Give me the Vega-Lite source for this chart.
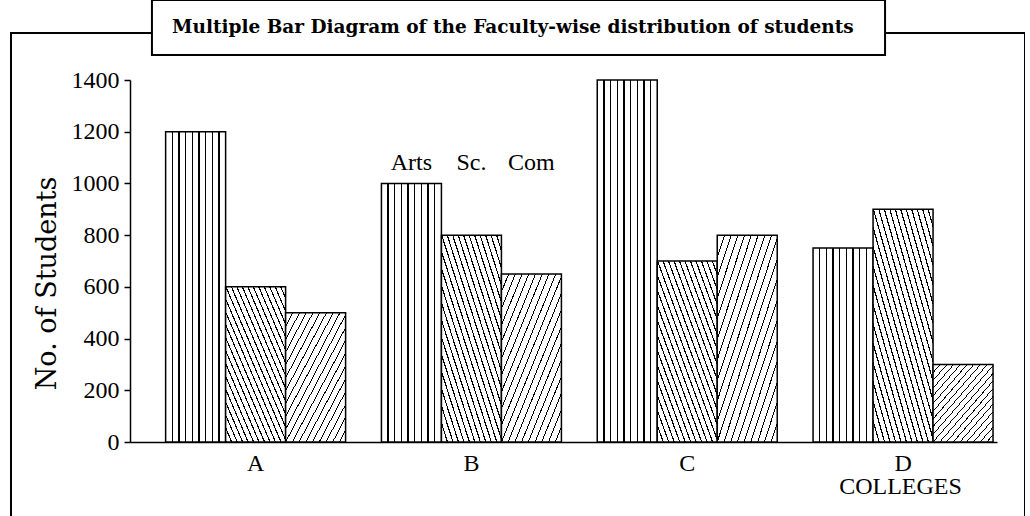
{
  "$schema": "https://vega.github.io/schema/vega-lite/v6.json",
  "autosize": {"type": "none"},
  "padding": {"left": 11, "top": 33, "right": 0, "bottom": 0},
  "width": 1014,
  "height": 490,
  "background": "#ffffff",
  "config": {
    "view": {"stroke": "#000000", "strokeWidth": 2, "fill": "#ffffff"},
    "axis": {"grid": false}
  },
  "layer": [
    {
      "data": {
        "values": [
          {"college": "A", "faculty": "Arts", "students": 1200},
          {"college": "A", "faculty": "Sc.", "students": 600},
          {"college": "A", "faculty": "Com", "students": 500},
          {"college": "B", "faculty": "Arts", "students": 1000},
          {"college": "B", "faculty": "Sc.", "students": 800},
          {"college": "B", "faculty": "Com", "students": 650},
          {"college": "C", "faculty": "Arts", "students": 1400},
          {"college": "C", "faculty": "Sc.", "students": 700},
          {"college": "C", "faculty": "Com", "students": 800},
          {"college": "D", "faculty": "Arts", "students": 750},
          {"college": "D", "faculty": "Sc.", "students": 900},
          {"college": "D", "faculty": "Com", "students": 300}
        ]
      },
      "encoding": {
        "x": {
          "field": "college",
          "type": "nominal",
          "scale": {"range": [119, 986], "paddingInner": 0.166, "paddingOuter": 0.0917, "align": 0.9},
          "axis": {
            "title": "COLLEGES",
            "labelAngle": 0,
            "ticks": false,
            "tickSize": 0,
            "labelPadding": 9,
            "labelFont": "Liberation Serif",
            "labelFontSize": 24,
            "labelColor": "#000000",
            "domainColor": "#000000",
            "domainWidth": 1.5,
            "offset": -81,
            "titleFont": "Liberation Serif",
            "titleFontSize": 24,
            "titleFontWeight": "normal",
            "titleColor": "#000000",
            "titleX": 889,
            "titleY": 44,
            "titleAlign": "center",
            "titleBaseline": "middle"
          }
        },
        "xOffset": {
          "field": "faculty",
          "type": "nominal",
          "sort": ["Arts", "Sc.", "Com"],
          "scale": {"domain": ["Arts", "Sc.", "Com"], "paddingInner": 0, "paddingOuter": 0}
        },
        "y": {
          "field": "students",
          "type": "quantitative",
          "scale": {"domain": [0, 1400], "range": [409, 47], "nice": false},
          "axis": {
            "title": "No. of Students",
            "values": [0, 200, 400, 600, 800, 1000, 1200, 1400],
            "format": "d",
            "offset": -119,
            "domainColor": "#000000",
            "domainWidth": 1.5,
            "tickColor": "#000000",
            "tickWidth": 1.5,
            "tickSize": 6,
            "labelPadding": 5,
            "labelFont": "Liberation Serif",
            "labelFontSize": 24,
            "labelColor": "#000000",
            "titleFont": "DejaVu Serif",
            "titleFontSize": 27,
            "titleFontWeight": "normal",
            "titleColor": "#000000",
            "titleX": -83,
            "titleY": 250,
            "titleAngle": -90,
            "titleAlign": "center",
            "titleBaseline": "middle"
          }
        }
      },
      "layer": [
        {
          "transform": [{"filter": "datum.faculty === 'Arts'"}],
          "mark": {
            "type": "bar",
            "stroke": "#000000",
            "strokeWidth": 1.5,
            "fill": {
              "gradient": "linear", "x1": 0, "y1": 0, "x2": 1, "y2": 0,
              "stops": [
                {"offset": 0, "color": "#ffffff"},
                {"offset": 0.1011, "color": "#ffffff"}, {"offset": 0.1011, "color": "#000000"}, {"offset": 0.1211, "color": "#000000"}, {"offset": 0.1211, "color": "#ffffff"},
                {"offset": 0.2122, "color": "#ffffff"}, {"offset": 0.2122, "color": "#000000"}, {"offset": 0.2322, "color": "#000000"}, {"offset": 0.2322, "color": "#ffffff"},
                {"offset": 0.3233, "color": "#ffffff"}, {"offset": 0.3233, "color": "#000000"}, {"offset": 0.3433, "color": "#000000"}, {"offset": 0.3433, "color": "#ffffff"},
                {"offset": 0.4344, "color": "#ffffff"}, {"offset": 0.4344, "color": "#000000"}, {"offset": 0.4544, "color": "#000000"}, {"offset": 0.4544, "color": "#ffffff"},
                {"offset": 0.5456, "color": "#ffffff"}, {"offset": 0.5456, "color": "#000000"}, {"offset": 0.5656, "color": "#000000"}, {"offset": 0.5656, "color": "#ffffff"},
                {"offset": 0.6567, "color": "#ffffff"}, {"offset": 0.6567, "color": "#000000"}, {"offset": 0.6767, "color": "#000000"}, {"offset": 0.6767, "color": "#ffffff"},
                {"offset": 0.7678, "color": "#ffffff"}, {"offset": 0.7678, "color": "#000000"}, {"offset": 0.7878, "color": "#000000"}, {"offset": 0.7878, "color": "#ffffff"},
                {"offset": 0.8789, "color": "#ffffff"}, {"offset": 0.8789, "color": "#000000"}, {"offset": 0.8989, "color": "#000000"}, {"offset": 0.8989, "color": "#ffffff"},
                {"offset": 1, "color": "#ffffff"}
              ]
            }
          }
        },
        {
          "transform": [{"filter": "datum.faculty === 'Sc.'"}],
          "mark": {
            "type": "bar",
            "stroke": "#000000",
            "strokeWidth": 1.5,
            "fill": {
              "gradient": "linear", "x1": 0, "y1": 1, "x2": 0.95, "y2": -0.045,
              "stops": [
                {"offset": 0, "color": "#000000"}, {"offset": 0.0095, "color": "#000000"}, {"offset": 0.0095, "color": "#ffffff"}, {"offset": 0.0435, "color": "#ffffff"},
                {"offset": 0.0435, "color": "#000000"}, {"offset": 0.0530, "color": "#000000"}, {"offset": 0.0530, "color": "#ffffff"}, {"offset": 0.0870, "color": "#ffffff"},
                {"offset": 0.0870, "color": "#000000"}, {"offset": 0.0965, "color": "#000000"}, {"offset": 0.0965, "color": "#ffffff"}, {"offset": 0.1304, "color": "#ffffff"},
                {"offset": 0.1304, "color": "#000000"}, {"offset": 0.1399, "color": "#000000"}, {"offset": 0.1399, "color": "#ffffff"}, {"offset": 0.1739, "color": "#ffffff"},
                {"offset": 0.1739, "color": "#000000"}, {"offset": 0.1834, "color": "#000000"}, {"offset": 0.1834, "color": "#ffffff"}, {"offset": 0.2174, "color": "#ffffff"},
                {"offset": 0.2174, "color": "#000000"}, {"offset": 0.2269, "color": "#000000"}, {"offset": 0.2269, "color": "#ffffff"}, {"offset": 0.2609, "color": "#ffffff"},
                {"offset": 0.2609, "color": "#000000"}, {"offset": 0.2704, "color": "#000000"}, {"offset": 0.2704, "color": "#ffffff"}, {"offset": 0.3043, "color": "#ffffff"},
                {"offset": 0.3043, "color": "#000000"}, {"offset": 0.3138, "color": "#000000"}, {"offset": 0.3138, "color": "#ffffff"}, {"offset": 0.3478, "color": "#ffffff"},
                {"offset": 0.3478, "color": "#000000"}, {"offset": 0.3573, "color": "#000000"}, {"offset": 0.3573, "color": "#ffffff"}, {"offset": 0.3913, "color": "#ffffff"},
                {"offset": 0.3913, "color": "#000000"}, {"offset": 0.4008, "color": "#000000"}, {"offset": 0.4008, "color": "#ffffff"}, {"offset": 0.4348, "color": "#ffffff"},
                {"offset": 0.4348, "color": "#000000"}, {"offset": 0.4443, "color": "#000000"}, {"offset": 0.4443, "color": "#ffffff"}, {"offset": 0.4783, "color": "#ffffff"},
                {"offset": 0.4783, "color": "#000000"}, {"offset": 0.4878, "color": "#000000"}, {"offset": 0.4878, "color": "#ffffff"}, {"offset": 0.5217, "color": "#ffffff"},
                {"offset": 0.5217, "color": "#000000"}, {"offset": 0.5312, "color": "#000000"}, {"offset": 0.5312, "color": "#ffffff"}, {"offset": 0.5652, "color": "#ffffff"},
                {"offset": 0.5652, "color": "#000000"}, {"offset": 0.5747, "color": "#000000"}, {"offset": 0.5747, "color": "#ffffff"}, {"offset": 0.6087, "color": "#ffffff"},
                {"offset": 0.6087, "color": "#000000"}, {"offset": 0.6182, "color": "#000000"}, {"offset": 0.6182, "color": "#ffffff"}, {"offset": 0.6522, "color": "#ffffff"},
                {"offset": 0.6522, "color": "#000000"}, {"offset": 0.6617, "color": "#000000"}, {"offset": 0.6617, "color": "#ffffff"}, {"offset": 0.6957, "color": "#ffffff"},
                {"offset": 0.6957, "color": "#000000"}, {"offset": 0.7052, "color": "#000000"}, {"offset": 0.7052, "color": "#ffffff"}, {"offset": 0.7391, "color": "#ffffff"},
                {"offset": 0.7391, "color": "#000000"}, {"offset": 0.7486, "color": "#000000"}, {"offset": 0.7486, "color": "#ffffff"}, {"offset": 0.7826, "color": "#ffffff"},
                {"offset": 0.7826, "color": "#000000"}, {"offset": 0.7921, "color": "#000000"}, {"offset": 0.7921, "color": "#ffffff"}, {"offset": 0.8261, "color": "#ffffff"},
                {"offset": 0.8261, "color": "#000000"}, {"offset": 0.8356, "color": "#000000"}, {"offset": 0.8356, "color": "#ffffff"}, {"offset": 0.8696, "color": "#ffffff"},
                {"offset": 0.8696, "color": "#000000"}, {"offset": 0.8791, "color": "#000000"}, {"offset": 0.8791, "color": "#ffffff"}, {"offset": 0.9130, "color": "#ffffff"},
                {"offset": 0.9130, "color": "#000000"}, {"offset": 0.9225, "color": "#000000"}, {"offset": 0.9225, "color": "#ffffff"}, {"offset": 0.9565, "color": "#ffffff"},
                {"offset": 0.9565, "color": "#000000"}, {"offset": 0.9660, "color": "#000000"}, {"offset": 0.9660, "color": "#ffffff"}, {"offset": 1, "color": "#ffffff"}
              ]
            }
          }
        },
        {
          "transform": [{"filter": "datum.faculty === 'Com'"}],
          "mark": {
            "type": "bar",
            "stroke": "#000000",
            "strokeWidth": 1.5,
            "fill": {
              "gradient": "linear", "x1": 0, "y1": 0, "x2": 0.9355, "y2": 1.057,
              "stops": [
                {"offset": 0, "color": "#000000"}, {"offset": 0.0080, "color": "#000000"}, {"offset": 0.0080, "color": "#ffffff"}, {"offset": 0.0526, "color": "#ffffff"},
                {"offset": 0.0526, "color": "#000000"}, {"offset": 0.0606, "color": "#000000"}, {"offset": 0.0606, "color": "#ffffff"}, {"offset": 0.1053, "color": "#ffffff"},
                {"offset": 0.1053, "color": "#000000"}, {"offset": 0.1133, "color": "#000000"}, {"offset": 0.1133, "color": "#ffffff"}, {"offset": 0.1579, "color": "#ffffff"},
                {"offset": 0.1579, "color": "#000000"}, {"offset": 0.1659, "color": "#000000"}, {"offset": 0.1659, "color": "#ffffff"}, {"offset": 0.2105, "color": "#ffffff"},
                {"offset": 0.2105, "color": "#000000"}, {"offset": 0.2185, "color": "#000000"}, {"offset": 0.2185, "color": "#ffffff"}, {"offset": 0.2632, "color": "#ffffff"},
                {"offset": 0.2632, "color": "#000000"}, {"offset": 0.2712, "color": "#000000"}, {"offset": 0.2712, "color": "#ffffff"}, {"offset": 0.3158, "color": "#ffffff"},
                {"offset": 0.3158, "color": "#000000"}, {"offset": 0.3238, "color": "#000000"}, {"offset": 0.3238, "color": "#ffffff"}, {"offset": 0.3684, "color": "#ffffff"},
                {"offset": 0.3684, "color": "#000000"}, {"offset": 0.3764, "color": "#000000"}, {"offset": 0.3764, "color": "#ffffff"}, {"offset": 0.4211, "color": "#ffffff"},
                {"offset": 0.4211, "color": "#000000"}, {"offset": 0.4291, "color": "#000000"}, {"offset": 0.4291, "color": "#ffffff"}, {"offset": 0.4737, "color": "#ffffff"},
                {"offset": 0.4737, "color": "#000000"}, {"offset": 0.4817, "color": "#000000"}, {"offset": 0.4817, "color": "#ffffff"}, {"offset": 0.5263, "color": "#ffffff"},
                {"offset": 0.5263, "color": "#000000"}, {"offset": 0.5343, "color": "#000000"}, {"offset": 0.5343, "color": "#ffffff"}, {"offset": 0.5789, "color": "#ffffff"},
                {"offset": 0.5789, "color": "#000000"}, {"offset": 0.5869, "color": "#000000"}, {"offset": 0.5869, "color": "#ffffff"}, {"offset": 0.6316, "color": "#ffffff"},
                {"offset": 0.6316, "color": "#000000"}, {"offset": 0.6396, "color": "#000000"}, {"offset": 0.6396, "color": "#ffffff"}, {"offset": 0.6842, "color": "#ffffff"},
                {"offset": 0.6842, "color": "#000000"}, {"offset": 0.6922, "color": "#000000"}, {"offset": 0.6922, "color": "#ffffff"}, {"offset": 0.7368, "color": "#ffffff"},
                {"offset": 0.7368, "color": "#000000"}, {"offset": 0.7448, "color": "#000000"}, {"offset": 0.7448, "color": "#ffffff"}, {"offset": 0.7895, "color": "#ffffff"},
                {"offset": 0.7895, "color": "#000000"}, {"offset": 0.7975, "color": "#000000"}, {"offset": 0.7975, "color": "#ffffff"}, {"offset": 0.8421, "color": "#ffffff"},
                {"offset": 0.8421, "color": "#000000"}, {"offset": 0.8501, "color": "#000000"}, {"offset": 0.8501, "color": "#ffffff"}, {"offset": 0.8947, "color": "#ffffff"},
                {"offset": 0.8947, "color": "#000000"}, {"offset": 0.9027, "color": "#000000"}, {"offset": 0.9027, "color": "#ffffff"}, {"offset": 0.9474, "color": "#ffffff"},
                {"offset": 0.9474, "color": "#000000"}, {"offset": 0.9554, "color": "#000000"}, {"offset": 0.9554, "color": "#ffffff"}, {"offset": 1, "color": "#ffffff"}
              ]
            }
          }
        },
        {
          "transform": [
            {"filter": "datum.college === 'B'"},
            {"joinaggregate": [{"op": "max", "field": "students", "as": "top"}]}
          ],
          "mark": {"type": "text", "font": "Liberation Serif", "fontSize": 24, "dy": -20, "baseline": "middle", "color": "#000000"},
          "encoding": {
            "y": {"field": "top", "type": "quantitative"},
            "text": {"field": "faculty"}
          }
        }
      ]
    },
    {
      "data": {"values": [{"label": "Multiple Bar Diagram of the Faculty-wise distribution of students"}]},
      "layer": [
        {
          "mark": {"type": "rect", "fill": "#ffffff", "stroke": "#000000", "strokeWidth": 2},
          "encoding": {
            "x": {"datum": "A", "type": "nominal", "bandPosition": -0.076},
            "x2": {"datum": "D", "bandPosition": 0.4},
            "y": {"datum": 1709, "type": "quantitative"},
            "y2": {"datum": 1497}
          }
        },
        {
          "mark": {"type": "text", "font": "DejaVu Serif", "fontSize": 18.5, "fontWeight": "bold", "color": "#000000", "baseline": "middle", "align": "center"},
          "encoding": {
            "x": {"datum": "B", "type": "nominal", "bandPosition": 0.73},
            "y": {"datum": 1605, "type": "quantitative"},
            "text": {"field": "label"}
          }
        }
      ]
    }
  ]
}
